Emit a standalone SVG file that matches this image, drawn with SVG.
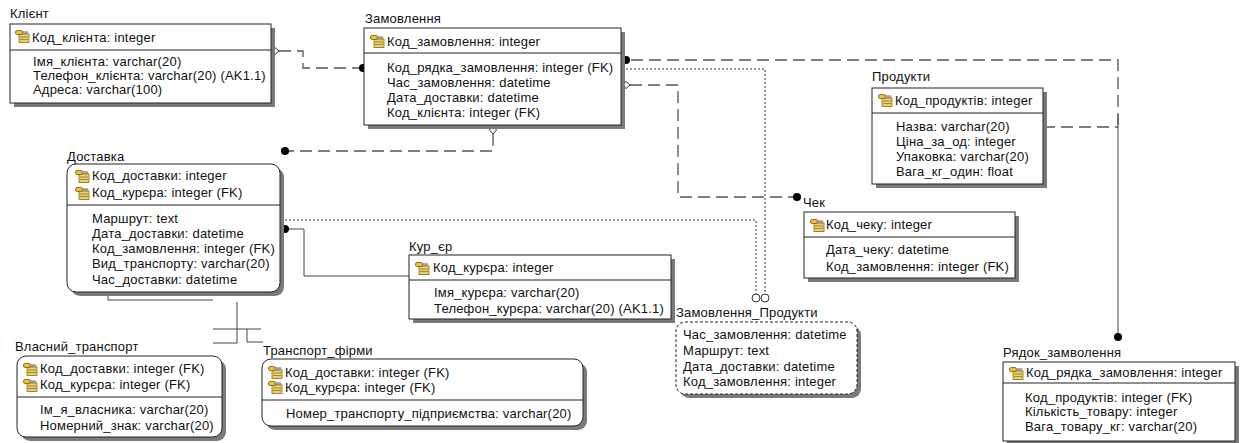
<svg xmlns="http://www.w3.org/2000/svg" width="1241" height="443" viewBox="0 0 1241 443">
<style>
text{font-family:"Liberation Sans",Arial,sans-serif;font-size:13px;letter-spacing:0.2px;fill:#111}
.box{fill:#fff;stroke:#222;stroke-width:1}
.sh{fill:#7a7a7a}
.div{stroke:#222;stroke-width:1}
.dash{fill:none;stroke:#555;stroke-width:1.3;stroke-dasharray:12 6}
.dot{fill:none;stroke:#333;stroke-width:1;stroke-dasharray:2 2}
.sol{fill:none;stroke:#444;stroke-width:1}
.fd{fill:#000}
.hol{fill:#fff;stroke:#333;stroke-width:1}
.zp{fill:#fff;stroke:#222;stroke-width:1;stroke-dasharray:3 2}
</style>
<defs>
<symbol id="key" viewBox="0 0 15 13" width="15" height="13">
<rect x="4" y="4" width="10" height="8.5" fill="#e8d070" stroke="#8a6a10" stroke-width="0.8"/>
<line x1="5" y1="7" x2="13" y2="7" stroke="#8a6a10" stroke-width="0.7"/>
<line x1="5" y1="9.5" x2="13" y2="9.5" stroke="#8a6a10" stroke-width="0.7"/>
<rect x="0.5" y="0.5" width="7" height="4" rx="1.5" fill="#f0c030" stroke="#806010" stroke-width="0.8"/>
<rect x="7" y="1.8" width="6" height="1.6" fill="#a0a0a0" stroke="#606060" stroke-width="0.4"/>
</symbol>
</defs>

<g id="connectors">
<!-- Клієнт - Замовлення -->
<polyline class="dash" points="279,51 303,51 303,68 360,68"/>
<polygon class="hol" points="271,51 275,47.5 279,51 275,54.5"/>
<circle class="fd" cx="363" cy="68" r="4"/>
<!-- Замовлення - Доставка -->
<polyline class="dash" points="493,134 493,151 288,151"/>
<polygon class="hol" points="493,126 496.5,130 493,134 489.5,130"/>
<circle class="fd" cx="285" cy="151" r="4"/>
<!-- Замовлення - Рядок_замволення -->
<polyline class="dash" points="631,60 1118,60 1118,127"/>
<circle class="fd" cx="626" cy="60" r="4"/>
<!-- Продукти - Рядок_замволення -->
<line class="dash" x1="1043" y1="127" x2="1118" y2="127"/>
<line class="sol" x1="1118" y1="115" x2="1118" y2="334"/>
<circle class="fd" cx="1118" cy="337" r="4"/>
<!-- Замовлення - Чек -->
<polyline class="dash" points="630,85 678,85 678,197 794,197"/>
<polygon class="hol" points="622,85 626,81.5 630,85 626,88.5"/>
<circle class="fd" cx="797" cy="197" r="4"/>
<!-- Замовлення - Замовлення_Продукти -->
<polyline class="dot" points="622,69 765,69 765,294"/>
<circle class="hol" cx="765" cy="298" r="4"/>
<!-- Доставка - Замовлення_Продукти -->
<polyline class="dot" points="281,220 756,220 756,294"/>
<circle class="hol" cx="756" cy="298" r="4"/>
<!-- Доставка - Кур_єр -->
<polyline class="sol" points="285,229 304,229 304,276 409,276"/>
<circle class="fd" cx="285" cy="229" r="4"/>
<!-- Доставка - subtypes -->
<polyline class="sol" points="108,296 108,300 213,300"/>
<polyline class="sol" points="237,302 237,343 213,343"/>
<line class="sol" x1="213" y1="329" x2="261" y2="329"/>
<polyline class="sol" points="247,329 247,342 263,342"/>
</g>

<g id="klient">
<text x="10" y="18">Клієнт</text>
<rect class="sh" x="14" y="28" width="261" height="79"/>
<rect class="box" x="10" y="24" width="261" height="79"/>
<line class="div" x1="10" y1="50" x2="271" y2="50"/>
<use href="#key" x="15" y="30"/>
<text x="32" y="42">Код_клієнта: integer</text>
<text x="33" y="66">Імя_клієнта: varchar(20)</text>
<text x="33" y="80">Телефон_клієнта: varchar(20) (AK1.1)</text>
<text x="33" y="94">Адреса: varchar(100)</text>
</g>

<g id="zamovlennia">
<text x="365" y="23">Замовлення</text>
<rect class="sh" x="368" y="32" width="257" height="97"/>
<rect class="box" x="364" y="28" width="257" height="97"/>
<line class="div" x1="364" y1="53" x2="621" y2="53"/>
<use href="#key" x="370" y="35"/>
<text x="387" y="46">Код_замовлення: integer</text>
<text x="387" y="72">Код_рядка_замовлення: integer (FK)</text>
<text x="387" y="87">Час_замовлення: datetime</text>
<text x="387" y="102">Дата_доставки: datetime</text>
<text x="387" y="117">Код_клієнта: integer (FK)</text>
</g>

<g id="produkty">
<text x="872" y="81">Продукти</text>
<rect class="sh" x="876" y="92" width="171" height="96"/>
<rect class="box" x="872" y="88" width="171" height="96"/>
<line class="div" x1="872" y1="113" x2="1043" y2="113"/>
<use href="#key" x="878" y="94"/>
<text x="895" y="105">Код_продуктів: integer</text>
<text x="896" y="131">Назва: varchar(20)</text>
<text x="896" y="146">Ціна_за_од: integer</text>
<text x="896" y="161">Упаковка: varchar(20)</text>
<text x="896" y="176">Вага_кг_один: float</text>
</g>

<g id="dostavka">
<text x="67" y="161">Доставка</text>
<rect class="sh" x="71" y="168" width="213" height="128" rx="9"/>
<rect class="box" x="67" y="164" width="213" height="128" rx="9"/>
<line class="div" x1="67" y1="205" x2="280" y2="205"/>
<use href="#key" x="75" y="170"/>
<use href="#key" x="75" y="187"/>
<text x="92" y="180">Код_доставки: integer</text>
<text x="92" y="197">Код_курєра: integer (FK)</text>
<text x="92" y="223">Маршрут: text</text>
<text x="92" y="238">Дата_доставки: datetime</text>
<text x="92" y="253">Код_замовлення: integer (FK)</text>
<text x="92" y="268">Вид_транспорту: varchar(20)</text>
<text x="92" y="284">Час_доставки: datetime</text>
</g>

<g id="kurier">
<text x="409" y="251">Кур_єр</text>
<rect class="sh" x="413" y="259" width="262" height="64"/>
<rect class="box" x="409" y="255" width="262" height="64"/>
<line class="div" x1="409" y1="280" x2="671" y2="280"/>
<use href="#key" x="415" y="262"/>
<text x="433" y="272">Код_курєра: integer</text>
<text x="434" y="297">Імя_курєра: varchar(20)</text>
<text x="434" y="313">Телефон_курєра: varchar(20) (AK1.1)</text>
</g>

<g id="chek">
<text x="803" y="207">Чек</text>
<rect class="sh" x="808" y="216" width="211" height="66"/>
<rect class="box" x="804" y="212" width="211" height="66"/>
<line class="div" x1="804" y1="237" x2="1015" y2="237"/>
<use href="#key" x="810" y="219"/>
<text x="826" y="229">Код_чеку: integer</text>
<text x="826" y="254">Дата_чеку: datetime</text>
<text x="826" y="271">Код_замовлення: integer (FK)</text>
</g>

<g id="zamovlennia_produkty">
<text x="676" y="317">Замовлення_Продукти</text>
<rect class="sh" x="680" y="326" width="181" height="72" rx="9"/>
<rect class="zp" x="676" y="322" width="181" height="72" rx="9"/>
<text x="683" y="339">Час_замовлення: datetime</text>
<text x="683" y="355">Маршрут: text</text>
<text x="683" y="371">Дата_доставки: datetime</text>
<text x="683" y="386">Код_замовлення: integer</text>
</g>

<g id="riadok">
<text x="1003" y="357">Рядок_замволення</text>
<rect class="sh" x="1007" y="366" width="232" height="79"/>
<rect class="box" x="1003" y="362" width="232" height="79"/>
<line class="div" x1="1003" y1="383" x2="1235" y2="383"/>
<use href="#key" x="1009" y="367"/>
<text x="1026" y="377">Код_рядка_замовлення: integer</text>
<text x="1025" y="402">Код_продуктів: integer (FK)</text>
<text x="1025" y="416">Кількість_товару: integer</text>
<text x="1025" y="431">Вага_товару_кг: varchar(20)</text>
</g>

<g id="vlasnyi_transport">
<text x="15" y="351">Власний_транспорт</text>
<rect class="sh" x="21" y="360" width="205" height="81" rx="9"/>
<rect class="box" x="17" y="356" width="205" height="81" rx="9"/>
<line class="div" x1="17" y1="397" x2="222" y2="397"/>
<use href="#key" x="23" y="363"/>
<use href="#key" x="23" y="379"/>
<text x="40" y="373">Код_доставки: integer (FK)</text>
<text x="40" y="389">Код_курєра: integer (FK)</text>
<text x="40" y="414">Ім_я_власника: varchar(20)</text>
<text x="40" y="430">Номерний_знак: varchar(20)</text>
</g>

<g id="transport_firmy">
<text x="263" y="355">Транспорт_фірми</text>
<rect class="sh" x="266" y="363" width="321" height="67" rx="9"/>
<rect class="box" x="262" y="359" width="321" height="67" rx="9"/>
<line class="div" x1="262" y1="400" x2="583" y2="400"/>
<use href="#key" x="268" y="366"/>
<use href="#key" x="268" y="381"/>
<text x="285" y="377">Код_доставки: integer (FK)</text>
<text x="285" y="392">Код_курєра: integer (FK)</text>
<text x="286" y="418">Номер_транспорту_підприємства: varchar(20)</text>
</g>
</svg>
